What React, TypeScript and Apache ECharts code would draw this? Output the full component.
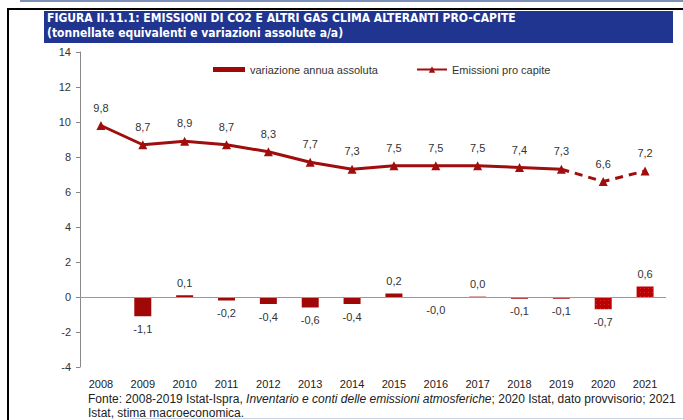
import React, { useEffect, useRef } from "react";
import * as echarts from "echarts";

const years = ["2008","2009","2010","2011","2012","2013","2014","2015","2016","2017","2018","2019","2020","2021"];
const variazione: (number | null)[] = [null, -1.1, 0.1, -0.2, -0.4, -0.6, -0.4, 0.2, -0.04, 0.02, -0.1, -0.1, -0.7, 0.6];
const emissioniSolid: (number | null)[] = [9.8, 8.7, 8.9, 8.7, 8.3, 7.7, 7.3, 7.5, 7.5, 7.5, 7.4, 7.3, null, null];
const emissioniDashed: (number | null)[] = [null, null, null, null, null, null, null, null, null, null, null, 7.3, 6.6, 7.2];
const estimatedYears = ["2020", "2021"];
const yTicks = { min: -4, max: 14, interval: 2 };

const fmt = (v: number) => v.toFixed(1).replace(".", ",");

export default function App() {
  const ref = useRef<HTMLDivElement>(null);
  useEffect(() => {
    if (!ref.current) return;
    const chart = echarts.init(ref.current, null, { renderer: "svg" });
    const font = "'Liberation Sans', Arial, sans-serif";
    const barData = variazione.map((v, i) => {
      if (v === null) return null;
      const est = estimatedYears.includes(years[i]);
      return {
        value: v,
        label: { position: v < 0 ? "bottom" : "top" },
        itemStyle: est
          ? {
              color: "#c00000",
              decal: {
                symbol: "rect",
                symbolSize: 0.6,
                color: "rgba(255,255,255,0.6)",
                dashArrayX: [[1, 3]],
                dashArrayY: [1, 3],
                rotation: 0,
              },
            }
          : { color: "#a00808" },
      };
    });
    const firstDashed = emissioniDashed.findIndex((x) => x !== null);
    const dashedData = emissioniDashed.map((v, i) =>
      v === null ? null : i === firstDashed
        ? { value: v, symbol: "none", label: { show: false } }
        : { value: v }
    );
    chart.setOption({
      animation: false,
      textStyle: { fontFamily: font },
      grid: { left: 80, right: 17, top: 52, bottom: 53 },
      legend: [
        {
          data: [{ name: "variazione annua assoluta", icon: "rect" }],
          left: 208,
          top: 59,
          itemWidth: 32,
          itemHeight: 5,
          textStyle: { fontSize: 11, color: "#333", fontFamily: font },
        },
        {
          data: ["Emissioni pro capite"],
          left: 411,
          top: 59,
          itemWidth: 30,
          itemHeight: 8,
          textStyle: { fontSize: 11, color: "#333", fontFamily: font },
        },
      ],
      xAxis: {
        type: "category",
        data: years,
        axisLine: { show: false },
        axisTick: { show: false },
        axisLabel: { color: "#222", fontSize: 11, margin: 11, fontFamily: font },
      },
      yAxis: {
        type: "value",
        min: yTicks.min,
        max: yTicks.max,
        interval: yTicks.interval,
        splitLine: { show: false },
        axisLine: { show: true, lineStyle: { color: "#888", width: 1 } },
        axisTick: { show: true, length: 4, lineStyle: { color: "#888" } },
        axisLabel: { color: "#333", fontSize: 11, margin: 9, fontFamily: font },
      },
      series: [
        {
          name: "variazione annua assoluta",
          type: "bar",
          data: barData,
          barWidth: 17,
          itemStyle: { color: "#a00808" },
          label: {
            show: true,
            distance: 7,
            color: "#333",
            fontSize: 11,
            formatter: (p: any) => fmt(p.value),
          },
          markLine: {
            silent: true,
            symbol: "none",
            label: { show: false },
            lineStyle: { color: "#999", width: 1, type: "solid" },
            data: [{ yAxis: 0 }],
          },
        },
        {
          name: "Emissioni pro capite",
          type: "line",
          data: emissioniSolid,
          symbol: "triangle",
          symbolSize: 9,
          lineStyle: { color: "#a00d0d", width: 3 },
          itemStyle: { color: "#a00d0d" },
          label: {
            show: true,
            position: "top",
            distance: 8,
            color: "#333",
            fontSize: 11,
            formatter: (p: any) => fmt(p.value),
          },
        },
        {
          name: "Emissioni stima",
          type: "line",
          data: dashedData,
          symbol: "triangle",
          symbolSize: 9,
          lineStyle: { color: "#a00d0d", width: 3, type: [8, 6] },
          itemStyle: { color: "#a00d0d" },
          label: {
            show: true,
            position: "top",
            distance: 8,
            color: "#333",
            fontSize: 11,
            formatter: (p: any) => fmt(p.value),
          },
        },
      ],
      graphic: [
        { type: "rect", shape: { x: 20, y: 0, width: 663, height: 2 }, style: { fill: "#7d8fb8" } },
        { type: "rect", shape: { x: 8, y: 8, width: 675, height: 2 }, style: { fill: "#000" } },
        { type: "rect", shape: { x: 7, y: 8, width: 2, height: 412 }, style: { fill: "#000" } },
        { type: "rect", shape: { x: 44, y: 11, width: 629, height: 32 }, style: { fill: "#1f3590" } },
        {
          type: "text",
          left: 47,
          top: 12,
          style: {
            text: "FIGURA II.11.1: EMISSIONI DI CO2 E ALTRI GAS CLIMA ALTERANTI PRO-CAPITE",
            fill: "#fff",
            font: "bold 12px 'Liberation Sans Narrow', 'DejaVu Sans Condensed', sans-serif",
          },
        },
        {
          type: "text",
          left: 47,
          top: 27,
          style: {
            text: "(tonnellate equivalenti e variazioni assolute a/a)",
            fill: "#fff",
            font: "bold 12px 'Liberation Sans Narrow', 'DejaVu Sans Condensed', sans-serif",
          },
        },
        {
          type: "text",
          left: 88,
          top: 392,
          style: {
            text: "Fonte: 2008-2019 Istat-Ispra, {i|Inventario e conti delle emissioni atmosferiche}; 2020 Istat, dato provvisorio; 2021\nIstat, stima macroeconomica.",
            fill: "#222",
            font: "12px 'Liberation Sans', Arial, sans-serif",
            lineHeight: 14,
            rich: {
              i: { fontStyle: "italic", fontSize: 12, fontFamily: "'Liberation Sans', Arial, sans-serif", fill: "#222" },
            },
          },
        },
        { type: "rect", shape: { x: 130, y: 418, width: 553, height: 1 }, style: { fill: "#c8d4e8" } },
      ],
    });
    return () => chart.dispose();
  }, []);
  return <div ref={ref} style={{ width: 683, height: 420, position: "absolute", left: 0, top: 0 }} />;
}
